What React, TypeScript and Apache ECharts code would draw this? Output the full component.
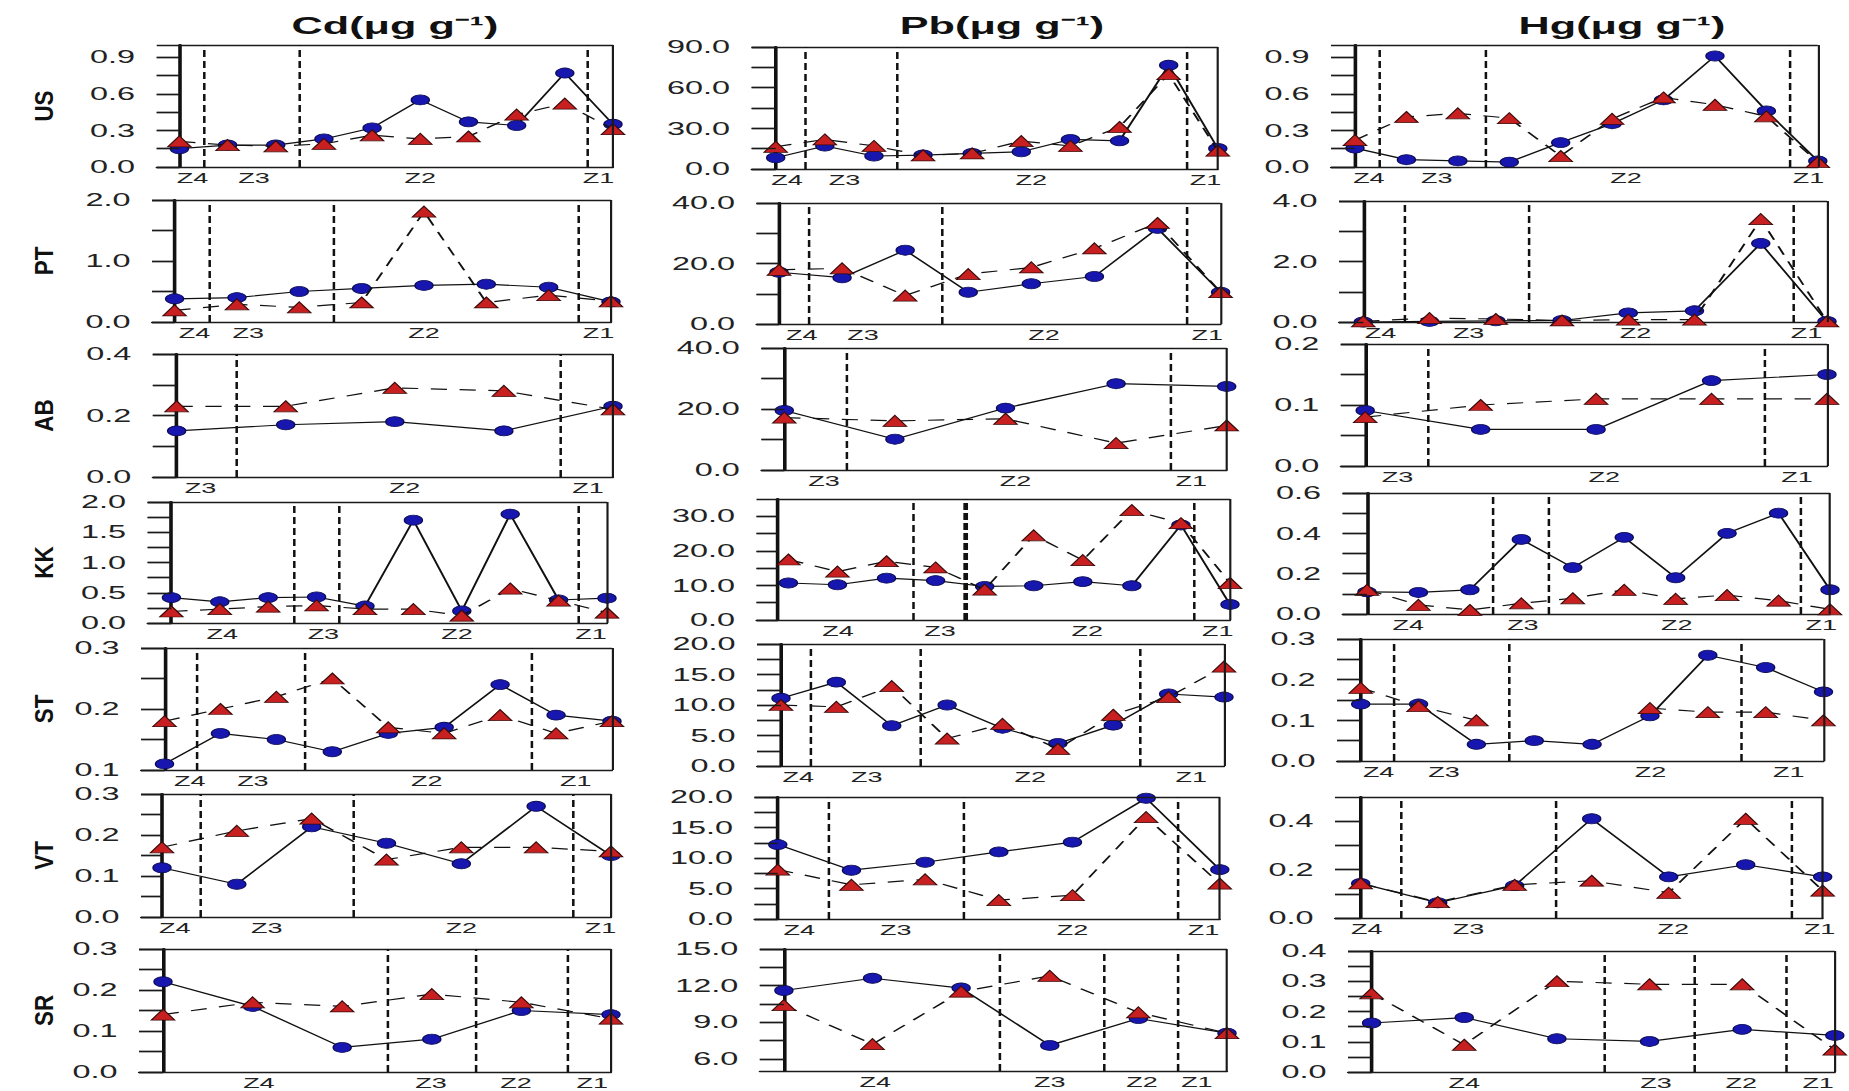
import React, { useEffect, useRef } from "react";
import * as echarts from "echarts";

// horizontal stretch of the original figure
const K = 1.8;
const PAGE_W = 1849;
const PAGE_H = 1091;
const FONT = "'Liberation Sans', Arial, Helvetica, sans-serif";

const ROWS = ["US", "PT", "AB", "KK", "ST", "VT", "SR"];
const TITLES = ["Cd(μg g⁻¹)", "Pb(μg g⁻¹)", "Hg(μg g⁻¹)"];
const ZONES4 = ["Z4", "Z3", "Z2", "Z1"];
const ZONES3 = ["Z3", "Z2", "Z1"];

// ---------- Cd ----------
const CD_US_A = [0.15, 0.18, 0.18, 0.23, 0.32, 0.55, 0.37, 0.34, 0.77, 0.35];
const CD_US_B = [0.21, 0.18, 0.17, 0.19, 0.26, 0.23, 0.25, 0.43, 0.52, 0.31];
const CD_PT_A = [0.38, 0.4, 0.5, 0.55, 0.6, 0.62, 0.57, 0.33];
const CD_PT_B = [0.19, 0.29, 0.24, 0.32, 1.81, 0.32, 0.44, 0.34];
const CD_AB_A = [0.15, 0.17, 0.18, 0.15, 0.23];
const CD_AB_B = [0.23, 0.23, 0.29, 0.28, 0.22];
const CD_KK_A = [0.42, 0.35, 0.42, 0.43, 0.28, 1.7, 0.2, 1.8, 0.38, 0.41];
const CD_KK_B = [0.19, 0.23, 0.27, 0.29, 0.23, 0.23, 0.12, 0.57, 0.37, 0.17];
const CD_ST_A = [0.11, 0.16, 0.15, 0.13, 0.16, 0.17, 0.24, 0.19, 0.18];
const CD_ST_B = [0.18, 0.2, 0.22, 0.25, 0.17, 0.16, 0.19, 0.16, 0.18];
const CD_VT_A = [0.12, 0.08, 0.22, 0.18, 0.13, 0.27, 0.15];
const CD_VT_B = [0.17, 0.21, 0.24, 0.14, 0.17, 0.17, 0.16];
const CD_SR_A = [0.22, 0.16, 0.06, 0.08, 0.15, 0.14];
const CD_SR_B = [0.14, 0.17, 0.16, 0.19, 0.17, 0.13];

// ---------- Pb ----------
const PB_US_A = [8.3, 17, 9.6, 10.3, 11.5, 12.7, 21.8, 20.8, 76.5, 15.2];
const PB_US_B = [16.4, 21.8, 17, 10, 11.5, 20.6, 17, 31, 70, 13.5];
const PB_PT_A = [17.1, 15.3, 24.4, 10.5, 13.3, 15.7, 31.6, 10.5];
const PB_PT_B = [17.9, 18.4, 9.4, 16.5, 18.7, 25.0, 33.4, 10.5];
const PB_AB_A = [19.5, 10.1, 20.3, 28.3, 27.4];
const PB_AB_B = [17.2, 16.1, 16.8, 8.8, 14.6];
const PB_KK_A = [10.7, 10.2, 12.1, 11.4, 9.7, 9.9, 11.1, 9.9, 27.5, 4.5];
const PB_KK_B = [17.5, 14.0, 17.0, 15.2, 8.8, 24.5, 17.3, 31.8, 28.0, 10.7];
const PB_ST_A = [11.1, 13.75, 6.6, 10.0, 6.2, 3.7, 6.7, 11.8, 11.3];
const PB_ST_B = [10.0, 9.7, 13.1, 4.5, 6.9, 2.8, 8.4, 11.3, 16.3];
const PB_VT_A = [12.2, 8.0, 9.3, 11.0, 12.6, 19.8, 8.1];
const PB_VT_B = [8.1, 5.6, 6.5, 3.1, 3.9, 16.7, 5.8];
const PB_SR_A = [11.6, 12.6, 11.8, 7.1, 9.3, 8.1];
const PB_SR_B = [10.4, 7.2, 11.5, 12.8, 9.8, 8.1];

// ---------- Hg ----------
const HG_US_A = [0.155, 0.06, 0.05, 0.04, 0.2, 0.355, 0.55, 0.91, 0.46, 0.05];
const HG_US_B = [0.22, 0.41, 0.44, 0.4, 0.09, 0.395, 0.57, 0.51, 0.415, 0.04];
const HG_PT_A = [0.0, 0.02, 0.04, 0.05, 0.3, 0.37, 2.6, 0.02];
const HG_PT_B = [0.02, 0.13, 0.1, 0.05, 0.08, 0.08, 3.4, 0.02];
const HG_AB_A = [0.091, 0.06, 0.06, 0.14, 0.15];
const HG_AB_B = [0.08, 0.1, 0.11, 0.11, 0.11];
const HG_KK_A = [0.11, 0.107, 0.12, 0.37, 0.23, 0.38, 0.18, 0.4, 0.5, 0.12];
const HG_KK_B = [0.12, 0.045, 0.02, 0.053, 0.078, 0.12, 0.075, 0.094, 0.066, 0.023];
const HG_ST_A = [0.14, 0.14, 0.041, 0.05, 0.041, 0.111, 0.26, 0.23, 0.17];
const HG_ST_B = [0.18, 0.135, 0.1, null, null, 0.13, 0.12, 0.12, 0.1];
const HG_VT_A = [0.143, 0.063, 0.134, 0.41, 0.17, 0.22, 0.17];
const HG_VT_B = [0.143, 0.066, 0.137, 0.154, 0.104, 0.41, 0.113];
const HG_SR_A = [0.162, 0.18, 0.11, 0.101, 0.141, 0.121];
const HG_SR_B = [0.26, 0.09, 0.3, 0.29, 0.29, 0.074];

// zone boundaries (sample index units)
const CD_BOUNDS = [[0.49, 2.5, 8.48], [0.55, 2.54, 6.48], [0.55, 3.52], [2.54, 3.45, 8.4], [0.56, 2.52, 6.55], [0.52, 2.55, 5.48], [2.51, 3.48, 4.51]];
const PB_BOUNDS = [[0.58, 2.48, 8.38], [0.47, 2.59, 6.45], [0.57, 3.49], [2.53, 8.27], [0.54, 2.53, 6.49], [0.68, 2.52, 5.42], [2.43, 3.61, 4.44]];
const HG_BOUNDS = [[0.47, 2.55, 8.44], [0.63, 2.5, 6.48], [0.54, 3.46], [2.43, 3.53, 8.42], [0.56, 2.56, 6.57], [0.51, 2.54, 5.6], [2.51, 3.48, 4.48]];
const PB_KK_BOLD_BOUND = [3.61];

// zone label positions (sample index units)
const CD_ZONES = [[0.27, 1.55, 5.0, 8.7], [0.32, 1.18, 4.0, 6.8], [0.22, 2.09, 3.77], [1.05, 3.14, 5.9, 8.67], [0.45, 1.58, 4.69, 7.35], [0.17, 1.4, 4.0, 5.86], [1.07, 2.99, 3.94, 4.79]];
const PB_ZONES = [[0.23, 1.4, 5.2, 8.75], [0.36, 1.33, 4.2, 6.79], [0.36, 2.09, 3.68], [1.01, 3.09, 6.09, 8.75], [0.31, 1.55, 4.5, 7.41], [0.29, 1.6, 4.0, 5.78], [1.03, 3.0, 4.04, 4.66]];
const HG_ZONES = [[0.27, 1.59, 5.27, 8.82], [0.26, 1.59, 4.11, 6.69], [0.28, 2.07, 3.74], [0.8, 3.03, 6.02, 8.83], [0.31, 1.44, 5.01, 7.4], [0.08, 1.4, 4.06, 5.96], [1.0, 3.07, 3.99, 4.82]];

// y ranges and tick labels
const CD_YRANGE = [[0, 1.0], [0, 2.0], [0, 0.4], [0, 2.0], [0.1, 0.3], [0, 0.3], [0, 0.3]];
const CD_YTICKS = [[0, 0.3, 0.6, 0.9], [0, 1, 2], [0, 0.2, 0.4], [0, 0.5, 1, 1.5, 2], [0.1, 0.2, 0.3], [0, 0.1, 0.2, 0.3], [0, 0.1, 0.2, 0.3]];
const PB_YRANGE = [[0, 90], [0, 40], [0, 40], [0, 35], [0, 20], [0, 20], [5, 15]];
const PB_YTICKS = [[0, 30, 60, 90], [0, 20, 40], [0, 20, 40], [0, 10, 20, 30], [0, 5, 10, 15, 20], [0, 5, 10, 15, 20], [6, 9, 12, 15]];
const HG_YRANGE = [[0, 1.0], [0, 4.0], [0, 0.2], [0, 0.6], [0, 0.3], [0, 0.5], [0, 0.4]];
const HG_YTICKS = [[0, 0.3, 0.6, 0.9], [0, 2, 4], [0, 0.1, 0.2], [0, 0.2, 0.4, 0.6], [0, 0.1, 0.2, 0.3], [0, 0.2, 0.4], [0, 0.1, 0.2, 0.3, 0.4]];

const CD_A = [CD_US_A, CD_PT_A, CD_AB_A, CD_KK_A, CD_ST_A, CD_VT_A, CD_SR_A];
const CD_B = [CD_US_B, CD_PT_B, CD_AB_B, CD_KK_B, CD_ST_B, CD_VT_B, CD_SR_B];
const PB_A = [PB_US_A, PB_PT_A, PB_AB_A, PB_KK_A, PB_ST_A, PB_VT_A, PB_SR_A];
const PB_B = [PB_US_B, PB_PT_B, PB_AB_B, PB_KK_B, PB_ST_B, PB_VT_B, PB_SR_B];
const HG_A = [HG_US_A, HG_PT_A, HG_AB_A, HG_KK_A, HG_ST_A, HG_VT_A, HG_SR_A];
const HG_B = [HG_US_B, HG_PT_B, HG_AB_B, HG_KK_B, HG_ST_B, HG_VT_B, HG_SR_B];

// layout in page px: [boxLeft, firstPointX, boxRight(lastPointX), top, bottom, axisLineX?]
const LAYOUT = [
  [[156.7, 179.4, 613, 45, 167], [152, 174.6, 611, 200, 322], [152.8, 176.6, 613, 354, 477], [147.6, 171.4, 607, 502, 623], [141, 164.5, 612, 648, 770], [141, 162, 611, 794, 917], [139, 163, 611, 949, 1072]],
  [[751.6, 775.7, 1217.8, 47, 169], [756.5, 779, 1220.6, 203, 324], [761.4, 784.3, 1226.7, 348, 470], [756.5, 788.4, 1230, 499, 620, 777.8], [757, 781, 1224, 644, 766], [754.5, 777.8, 1219.8, 797, 919], [759.8, 783.9, 1227, 949, 1071]],
  [[1331, 1355, 1817.8, 45, 167], [1339, 1363.3, 1827, 201, 322], [1340.8, 1365.2, 1827, 344, 466], [1342.6, 1367, 1830, 493, 614], [1337, 1360.7, 1823.5, 639, 761], [1335, 1360.7, 1822.7, 797, 918], [1348, 1371.6, 1834.8, 951, 1072]],
];
const TITLE_X = [395, 1002, 1622];
const ROW_Y = [106, 261, 415.5, 562.5, 709, 855.5, 1010.5];

const SERIES_A = [CD_A, PB_A, HG_A];
const SERIES_B = [CD_B, PB_B, HG_B];
const BOUNDS = [CD_BOUNDS, PB_BOUNDS, HG_BOUNDS];
const ZONES = [CD_ZONES, PB_ZONES, HG_ZONES];
const YRANGE = [CD_YRANGE, PB_YRANGE, HG_YRANGE];
const YTICKS = [CD_YTICKS, PB_YTICKS, HG_YTICKS];

function buildOption() {
  const grid: any[] = [];
  const xAxis: any[] = [];
  const yAxis: any[] = [];
  const series: any[] = [];
  let idx = 0;
  for (let c = 0; c < 3; c++) {
    for (let r = 0; r < 7; r++) {
      const i = idx++;
      const lay = LAYOUT[c][r];
      const [l, x0, rr, t, bt] = lay;
      const ax = lay.length > 5 ? lay[5] : x0;
      const a = SERIES_A[c][r];
      const b = SERIES_B[c][r];
      const n = a.length;
      const step = (rr - x0) / (n - 1);
      const xMin = (l - x0) / step;
      const axisIdx = (ax - x0) / step;
      const tickLen = (ax - l) / K;
      const zones = ZONES[c][r];
      const names = zones.length === 4 ? ZONES4 : ZONES3;
      const majors = YTICKS[c][r];
      const minors = majors.slice(1).map((v, j) => (v + majors[j]) / 2);
      const allTicks = [...majors, ...minors].sort((p, q) => p - q);
      const bold = c === 1 && r === 3 ? PB_KK_BOLD_BOUND : [];
      const yMin = YRANGE[c][r][0];
      const yMax = YRANGE[c][r][1];

      grid.push({
        left: l / K,
        top: t,
        width: (rr - l) / K,
        height: bt - t,
        show: false,
        outerBoundsMode: "none",
        containLabel: false,
      });
      xAxis.push({
        type: "value",
        gridIndex: i,
        min: xMin,
        max: n - 1,
        axisLine: { show: true, onZero: false, lineStyle: { color: "#1a1a1a", width: 1.3 } },
        axisTick: { show: false },
        splitLine: { show: false },
        axisLabel: {
          show: true,
          customValues: zones,
          formatter: (v: number) => {
            const k = zones.findIndex((z) => Math.abs(z - v) < 1e-6);
            return k >= 0 ? names[k] : "";
          },
          margin: 3,
          fontSize: 15,
          color: "#222",
          fontFamily: FONT,
        },
      });
      // y axis drawn at the first sample (thick line), ticks reaching back to the box edge
      yAxis.push({
        type: "value",
        gridIndex: i,
        position: "left",
        offset: -tickLen,
        min: yMin,
        max: yMax,
        axisLine: { show: true, onZero: false, lineStyle: { color: "#111", width: 2 } },
        splitLine: { show: false },
        axisTick: {
          show: true,
          inside: false,
          length: tickLen,
          customValues: allTicks,
          lineStyle: { color: "#1a1a1a", width: 1.4 },
        },
        axisLabel: {
          show: true,
          customValues: majors,
          formatter: (v: number) => v.toFixed(1),
          margin: tickLen + 12,
          fontSize: 18,
          color: "#222",
          fontFamily: FONT,
        },
      });
      const tickSegs = allTicks.map((v) => [
        { coord: [xMin, v], lineStyle: { type: "solid", width: 1.4, color: "#1a1a1a" } },
        { coord: [axisIdx, v] },
      ]);
      const markData: any[] = [
        { xAxis: n - 1, lineStyle: { type: "solid", width: 1.2, color: "#1a1a1a" } },
        { yAxis: yMax, lineStyle: { type: "solid", width: 1.3, color: "#1a1a1a" } },
        ...BOUNDS[c][r].map((bx) => ({ xAxis: bx, lineStyle: { type: [7, 4], width: 1.4, color: "#111" } })),
        ...bold.map((bx) => ({ xAxis: bx, lineStyle: { type: [7, 3], width: 2.6, color: "#111" } })),
        ...tickSegs,
      ];
      series.push({
        type: "line",
        xAxisIndex: i,
        yAxisIndex: i,
        data: a.map((v, j) => [j, v]),
        symbol: "circle",
        symbolSize: [10, 10],
        clip: false,
        silent: true,
        z: 3,
        lineStyle: { color: "#111", width: 1.2 },
        itemStyle: { color: "#1717b0", borderColor: "#0b0b55", borderWidth: 0.8 },
        emphasis: { disabled: true },
        markLine: {
          silent: true,
          symbol: ["none", "none"],
          label: { show: false },
          emphasis: { disabled: true },
          animation: false,
          lineStyle: { color: "#111", type: "solid", width: 1.2 },
          data: markData,
        },
      });
      series.push({
        type: "line",
        xAxisIndex: i,
        yAxisIndex: i,
        data: b.map((v, j) => [j, v == null ? "-" : v]),
        connectNulls: false,
        symbol: "triangle",
        symbolSize: [13, 11],
        clip: false,
        silent: true,
        z: 4,
        lineStyle: { color: "#111", width: 1.2, type: [9, 7] },
        itemStyle: { color: "#c82020", borderColor: "#3a0a0a", borderWidth: 0.8 },
        emphasis: { disabled: true },
      });
    }
  }

  const graphic: any[] = [
    ...TITLES.map((t, c) => ({
      type: "text",
      x: TITLE_X[c] / K,
      y: 25,
      silent: true,
      style: {
        text: t,
        fontSize: 24,
        fontWeight: "bold",
        fontFamily: FONT,
        fill: "#111",
        align: "center",
        verticalAlign: "middle",
        textAlign: "center",
        textVerticalAlign: "middle",
      },
    })),
    ...ROWS.map((name, j) => ({
      type: "text",
      x: 44 / K,
      y: ROW_Y[j],
      rotation: Math.PI / 2,
      scaleX: 1.6,
      silent: true,
      style: {
        text: name,
        fontSize: 14,
        fontWeight: "bold",
        fontFamily: FONT,
        fill: "#111",
        align: "center",
        verticalAlign: "middle",
        textAlign: "center",
        textVerticalAlign: "middle",
      },
    })),
  ];

  return {
    animation: false,
    backgroundColor: "#ffffff",
    grid,
    xAxis,
    yAxis,
    series,
    graphic,
  };
}

export default function App() {
  const ref = useRef<HTMLDivElement | null>(null);
  useEffect(() => {
    if (!ref.current) return;
    const chart = echarts.init(ref.current, undefined, { renderer: "svg" });
    chart.setOption(buildOption() as any);
    return () => chart.dispose();
  }, []);
  return (
    <div
      ref={ref}
      style={{
        position: "absolute",
        left: 0,
        top: 0,
        width: PAGE_W / K,
        height: PAGE_H,
        transform: `scaleX(${K})`,
        transformOrigin: "0 0",
        background: "#fff",
      }}
    />
  );
}
